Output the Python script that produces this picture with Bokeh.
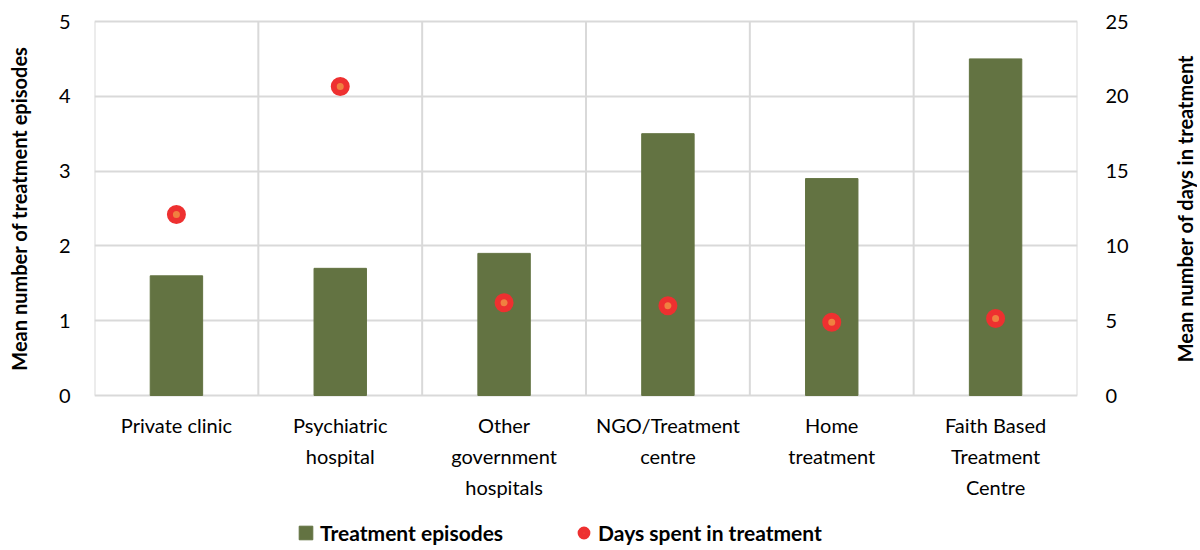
import math
from bokeh.plotting import figure
from bokeh.layouts import row
from bokeh.models import (ColumnDataSource, Range1d, LinearAxis, FixedTicker,
                          Legend, LegendItem)
from bokeh.core.properties import value
from bokeh.embed import file_html
from bokeh.resources import INLINE

categories = ["Private clinic", "Psychiatric\nhospital", "Other\ngovernment\nhospitals",
              "NGO/Treatment\ncentre", "Home\ntreatment", "Faith Based\nTreatment\nCentre"]
episodes = [1.6, 1.7, 1.9, 3.5, 2.9, 4.5]
days = [12.1, 20.65, 6.2, 6.0, 4.9, 5.15]
left_ticks = [0, 1, 2, 3, 4, 5]
right_ticks = [0, 5, 10, 15, 20, 25]
left_title = "Mean number of treatment episodes"
right_title = "Mean number of days in treatment"

FONT = "Lato"
GRID = "#d9d9d9"
BAR = "#637342"

EP_MAX, DAY_MAX = 5, 25
PX_PER_UNIT = 74.8          # plot-area height 374 px for 0..5
TOP_PX = 2                  # keep the top grid line fully visible
BELOW_PX = 153              # room under the plot area for labels + legend
ep_low = -BELOW_PX / PX_PER_UNIT
ep_high = EP_MAX + TOP_PX / PX_PER_UNIT
k = DAY_MAX / EP_MAX
FRAME_H = 374 + TOP_PX + BELOW_PX
TOP_BORDER = 21 - TOP_PX

xpos = [i + 0.5 for i in range(len(categories))]
src = ColumnDataSource(dict(x=xpos, ep=episodes, days=days, cat=categories,
                            base=[0] * len(categories)))
bounds_x = list(range(len(categories) + 1))
sep = ColumnDataSource(dict(x=bounds_x, y0=[0] * len(bounds_x), y1=[EP_MAX] * len(bounds_x)))

yr = Range1d(ep_low, ep_high)
p = figure(frame_width=983, frame_height=FRAME_H, output_backend="svg",
           toolbar_location=None,
           x_range=Range1d(0, len(categories)), y_range=yr,
           min_border_left=58, min_border_right=45, min_border_top=TOP_BORDER,
           min_border_bottom=0)
p.extra_y_ranges = {"days": Range1d(ep_low * k, ep_high * k)}
p.outline_line_color = None
p.background_fill_color = "white"
p.border_fill_color = "white"

# grids (restricted to the 0..5 plot area)
p.xgrid.grid_line_color = None
p.ygrid.ticker = FixedTicker(ticks=left_ticks)
p.ygrid.grid_line_color = GRID
p.ygrid.grid_line_width = 2
p.segment(x0="x", x1="x", y0="y0", y1="y1", source=sep, line_color=GRID, line_width=2)

bars = p.vbar(x="x", top="ep", width=0.32, source=src, fill_color=BAR, line_color=BAR)
pts = p.scatter(x="x", y="days", source=src, y_range_name="days", size=13,
                fill_color="#f08040", line_color="#ee3030", line_width=6)

# category labels under the plot area
p.text(x="x", y="base", text="cat", source=src, text_font=value(FONT),
       text_font_size="20px", text_color="#000000", text_align="center",
       text_baseline="top", text_line_height=1.3, y_offset=17)

p.xaxis.visible = False

# left axis (ticks)
p.yaxis.ticker = FixedTicker(ticks=left_ticks)
p.yaxis.major_label_text_font = FONT
p.yaxis.major_label_text_font_size = "20px"
p.yaxis.major_label_text_color = "#000000"
p.yaxis.major_tick_line_color = None
p.yaxis.minor_tick_line_color = None
p.yaxis.axis_line_color = None
p.yaxis.major_label_standoff = 18

# right axis (ticks)
ry = LinearAxis(y_range_name="days", ticker=FixedTicker(ticks=right_ticks))
ry.major_label_text_font = FONT
ry.major_label_text_font_size = "20px"
ry.major_label_text_color = "#000000"
ry.major_tick_line_color = None
ry.minor_tick_line_color = None
ry.axis_line_color = None
ry.major_label_standoff = 22
p.add_layout(ry, "right")

legend = Legend(items=[LegendItem(label="Treatment episodes", renderers=[bars]),
                       LegendItem(label="Days spent in treatment", renderers=[pts])],
                orientation="horizontal", location=(203, 3),
                label_text_font=FONT, label_text_font_style="bold",
                label_text_font_size="21px", label_text_color="#000000",
                border_line_color=None, background_fill_alpha=0,
                spacing=72, glyph_width=17, glyph_height=17, label_standoff=6,
                margin=0, padding=0)
p.add_layout(legend)


def title_panel(width, x, text):
    f = figure(frame_width=width, frame_height=FRAME_H, output_backend="svg",
               toolbar_location=None, x_range=Range1d(0, width), y_range=yr,
               x_axis_location=None, y_axis_location=None,
               min_border_left=0, min_border_right=0, min_border_top=TOP_BORDER,
               min_border_bottom=0)
    f.outline_line_color = None
    f.grid.grid_line_color = None
    f.border_fill_color = "white"
    f.text(x=[x], y=[EP_MAX / 2], text=[text], angle=math.pi / 2,
           text_font=value(FONT), text_font_style="bold", text_font_size="20px",
           text_color="#000000", text_align="center", text_baseline="middle")
    return f


left_panel = title_panel(36, 18, left_title)
right_panel = title_panel(66, 53, right_title)

layout = row(left_panel, p, right_panel, spacing=0)
open("out.html", "w").write(file_html(layout, INLINE))
